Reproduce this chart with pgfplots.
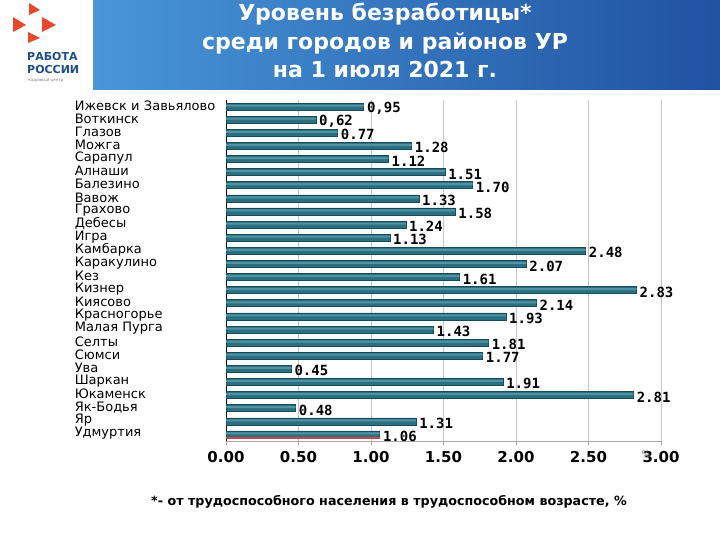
\documentclass[border=0pt]{standalone}
\usepackage{pgfplots}
\pgfplotsset{compat=1.18}
\usepackage{pgfplotstable}
\usepackage{fontspec}
\setmainfont{DejaVu Sans}
\newfontfamily\labfont{DejaVu Sans Mono}

\definecolor{barmid}{RGB}{42,112,130}
\definecolor{barlight}{RGB}{80,148,164}
\definecolor{barbot}{RGB}{24,74,88}
\definecolor{barred}{RGB}{200,70,70}
\definecolor{banl}{RGB}{72,150,215}
\definecolor{banr}{RGB}{32,82,162}
\definecolor{logored}{RGB}{232,72,44}
\definecolor{logoblue}{RGB}{30,78,140}

\pgfplotstableread{
v pos lab
0.95 0 0,95
0.62 1 0,62
0.77 2 0.77
1.28 3 1.28
1.12 4 1.12
1.51 5 1.51
1.70 6 1.70
1.33 7 1.33
1.58 8 1.58
1.24 9 1.24
1.13 10 1.13
2.48 11 2.48
2.07 12 2.07
1.61 13 1.61
2.83 14 2.83
2.14 15 2.14
1.93 16 1.93
1.43 17 1.43
1.81 18 1.81
1.77 19 1.77
0.45 20 0.45
1.91 21 1.91
2.81 22 2.81
0.48 23 0.48
1.31 24 1.31
1.06 25 1.06
}\regions

\begin{document}
\begin{tikzpicture}
\path[use as bounding box,fill=white] (0pt,0pt) rectangle (720pt,540pt);

% banner and logo
\shade[left color=banl,right color=banr] (93pt,450pt) rectangle (720pt,540pt);
\node[white,font=\bfseries\fontsize{22}{22}\selectfont] at (385pt,526pt) {Уровень безработицы*};
\node[white,font=\bfseries\fontsize{22}{22}\selectfont] at (385pt,497pt) {среди городов и районов УР};
\node[white,font=\bfseries\fontsize{22}{22}\selectfont] at (385pt,470pt) {на 1 июля 2021 г.};
\fill[logored] (29pt,537pt) -- (29pt,525pt) -- (40pt,530pt) -- cycle;
\fill[logored] (13pt,523pt) -- (13pt,508pt) -- (26pt,515pt) -- cycle;
\fill[logored] (42pt,523pt) -- (42pt,508pt) -- (56pt,515pt) -- cycle;
\fill[logored] (28pt,508pt) -- (28pt,497pt) -- (40pt,502pt) -- cycle;
\node[logoblue,anchor=west,inner sep=0,font=\bfseries\fontsize{11}{11}\selectfont] at (27pt,483pt) {РАБОТА};
\node[logoblue,anchor=west,inner sep=0,font=\bfseries\fontsize{11}{11}\selectfont] at (27pt,470pt) {РОССИИ};
\node[gray,anchor=west,inner sep=0,font=\fontsize{4}{4}\selectfont] at (28pt,460pt) {Кадровый центр};

\begin{axis}[at={(226pt,99pt)},anchor=south west,scale only axis,
  width=435pt,height=341pt,
  xbar,bar width=7pt,bar shift=0pt,
  xmin=0,xmax=3,ymin=-0.5,ymax=25.5,y dir=reverse,
  axis x line*=bottom,axis y line*=left,
  x axis line style={gray!70},y axis line style={black},
  xtick={0,0.5,...,3},xmajorgrids,grid style={gray!45},
  tick align=outside,major tick length=4pt,
  xtick style={gray!70},
  ytick={0,...,25},ytick style={draw=none},
  minor ytick={-0.5,0.5,...,25.5},minor tick length=4pt,
  minor y tick style={black,thick},
  yticklabels={Ижевск и Завьялово,Воткинск,Глазов,Можга,Сарапул,Алнаши,Балезино,Вавож,Грахово,Дебесы,Игра,Камбарка,Каракулино,Кез,Кизнер,Киясово,Красногорье,Малая Пурга,Селты,Сюмси,Ува,Шаркан,Юкаменск,Як-Бодья,Яр,Удмуртия},
  yticklabel style={font=\fontsize{13}{13}\selectfont,text width=145pt,align=left,anchor=east,inner sep=2pt,yshift=1pt},
  xticklabel style={font=\bfseries\fontsize{15}{15}\selectfont,yshift=-3pt},
  /pgf/number format/.cd,fixed,fixed zerofill,precision=2,assume math mode=true,
  /pgfplots/.cd,
]
% bar body with its value
\addplot[draw=barbot,line width=0.6pt,fill=barmid,point meta=explicit symbolic,nodes near coords,
  every node near coord/.append style={anchor=west,yshift=-2pt,inner sep=3pt,
    font=\labfont\bfseries\fontsize{14}{14}\selectfont,black}]
  table[x=v,y=pos,meta=lab] {\regions};
% lighter stripe in the upper half of each bar
\addplot[draw=none,fill=barlight,bar width=2pt,bar shift=1pt]
  table[x=v,y=pos] {\regions};
% red edge under the Udmurtia bar
\addplot[draw=none,fill=barred,bar width=2pt,bar shift=-3.3pt]
  coordinates {(1.06,25)};
\end{axis}

\node[gray,font=\fontsize{9}{9}\selectfont] at (646pt,86pt) {\%};
\node[font=\bfseries\fontsize{12.7}{12.7}\selectfont] at (389pt,38pt)
  {*- от трудоспособного населения в трудоспособном возрасте, \%};
\end{tikzpicture}
\end{document}
